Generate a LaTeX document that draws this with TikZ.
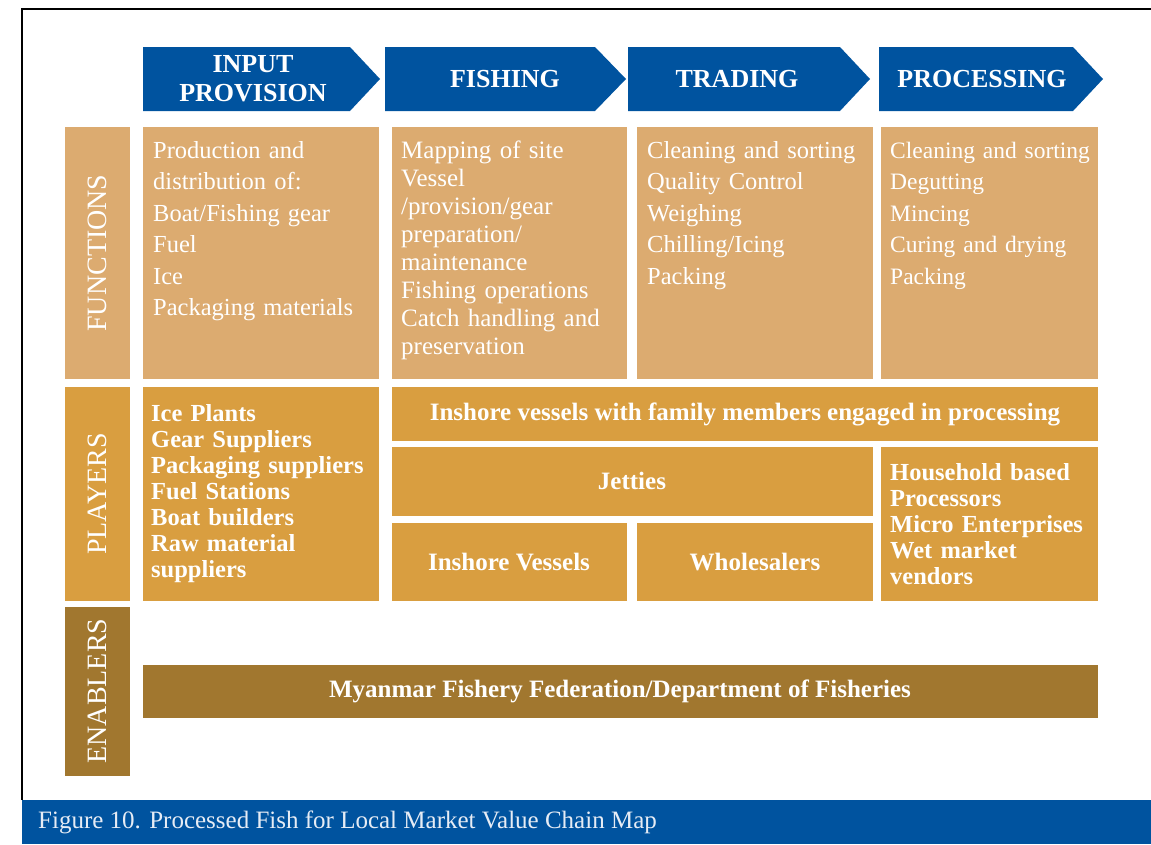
\documentclass[tikz,border=0pt]{standalone}
\usepackage{fontspec}
\setmainfont{Liberation Serif}
\usetikzlibrary{calc}
\definecolor{chainblue}{RGB}{0,83,159}
\definecolor{funtan}{RGB}{220,171,112}
\definecolor{playtan}{RGB}{217,158,64}
\definecolor{enabrown}{RGB}{161,119,47}
\definecolor{capwhite}{RGB}{230,236,245}
\tikzset{
 headtext/.style={white, inner sep=0, align=center, font=\fontsize{26}{29}\selectfont\bfseries},
 sidetext/.style={white, inner sep=0, rotate=90, font=\fontsize{28}{30}\selectfont},
 funtext/.style={white, inner sep=0, anchor=base west, text width=228pt, align=left, font=\fontsize{24.5}{31.5}\selectfont},
 playtext/.style={white, inner sep=0, anchor=base west, text width=228pt, align=left, font=\fontsize{24.5}{26}\selectfont\bfseries},
 celltext/.style={white, inner sep=0, font=\fontsize{25}{26}\selectfont\bfseries}
}

\begin{document}
\begin{tikzpicture}[x=1pt, y=-1pt]
\useasboundingbox (0,0) rectangle (1151,844);
\draw[black, line width=1.3pt] (1151,9) -- (22,9) -- (22,800);
\fill[chainblue] (22,800) rectangle (1151,844);
\node[capwhite, anchor=base west, inner sep=0, font=\fontsize{25}{30}\selectfont] (caption) at (38,828) {Figure 10. Processed Fish for Local Market Value Chain Map};

\foreach \xa/\xb/\xc in {143/350/380, 385/595/626, 628/840/870, 879/1073/1103} {
 \fill[chainblue] (\xa,47) -- (\xb,47) -- (\xc,79) -- (\xb,111) -- (\xa,111) -- cycle;
}
\node[headtext] (hinput) at (253,79) {INPUT\\PROVISION};
\node[headtext] (hfishing) at (505,79) {FISHING};
\node[headtext] (htrading) at (737,79) {TRADING};
\node[headtext] (hprocessing) at (982,79) {PROCESSING};

\fill[funtan] (65,127) rectangle (130,379);
\fill[playtan] (65,387) rectangle (130,601);
\fill[enabrown] (65,607) rectangle (130,776);
\node[sidetext] (functions) at (97,253) {FUNCTIONS};
\node[sidetext] (players) at (97,494) {PLAYERS};
\node[sidetext] (enablers) at (97,691) {ENABLERS};

\foreach \xa/\xb in {143/379, 392/627, 637/873, 881/1098} {
 \fill[funtan] (\xa,127) rectangle (\xb,379);
}
\node[funtext] (inputfun) at (153,158) {Production and\\distribution of:\\Boat/Fishing gear\\Fuel\\Ice\\Packaging materials};
\node[funtext, font=\fontsize{25}{28}\selectfont] (fishingfun) at (401,158) {Mapping of site\\Vessel\\/provision/gear\\preparation/\\maintenance\\Fishing operations\\Catch handling and\\preservation};
\node[funtext] (tradingfun) at (647,158) {Cleaning and sorting\\Quality Control\\Weighing\\Chilling/Icing\\Packing};
\node[funtext, font=\fontsize{23.5}{31.5}\selectfont] (processingfun) at (890,158) {Cleaning and sorting\\Degutting\\Mincing\\Curing and drying\\Packing};

\fill[playtan] (143,387) rectangle (379,601);
\fill[playtan] (392,387) rectangle (1098,441);
\fill[playtan] (392,447) rectangle (873,516);
\fill[playtan] (881,447) rectangle (1098,601);
\fill[playtan] (392,523) rectangle (627,601);
\fill[playtan] (637,523) rectangle (873,601);
\node[playtext] (inputplay) at (151,421) {Ice Plants\\Gear Suppliers\\Packaging suppliers\\Fuel Stations\\Boat builders\\Raw material\\suppliers};
\node[celltext] (familyvessels) at (745,414) {Inshore vessels with family members engaged in processing};
\node[celltext] (jetties) at (632,481) {Jetties};
\node[celltext] (inshore) at (509,562) {Inshore Vessels};
\node[celltext] (wholesalers) at (755,562) {Wholesalers};
\node[playtext] (processors) at (890,480) {Household based\\Processors\\Micro Enterprises\\Wet market\\vendors};

\fill[enabrown] (143,665) rectangle (1098,718);
\node[celltext] (federation) at (620,691) {Myanmar Fishery Federation/Department of Fisheries};
\end{tikzpicture}
\end{document}
